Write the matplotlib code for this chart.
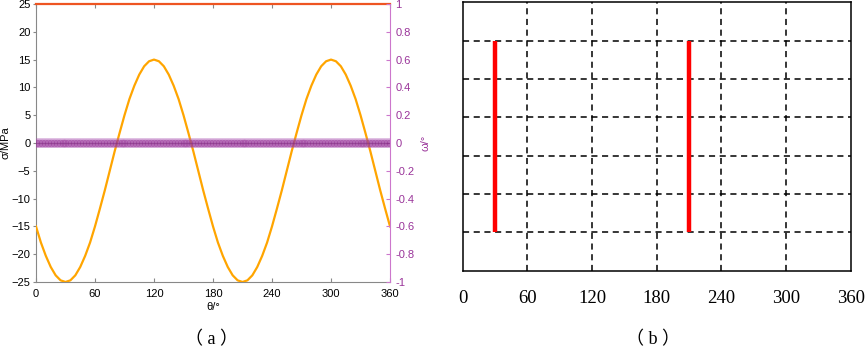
import numpy as np
import matplotlib
matplotlib.use("Agg")
import matplotlib.pyplot as plt

# --- data ------------------------------------------------------------------
theta = np.arange(0, 361, 5)
sigma = [-15.0, -17.9, -20.3, -22.3, -23.8, -24.7, -25.0, -24.7, -23.8, -22.3,
         -20.3, -17.9, -15.0, -11.8, -8.5, -5.0, -1.5, 1.8, 5.0, 7.9,
         10.3, 12.3, 13.8, 14.7, 15.0, 14.7, 13.8, 12.3, 10.3, 7.9,
         5.0, 1.8, -1.5, -5.0, -8.5, -11.8,
         -15.0, -17.9, -20.3, -22.3, -23.8, -24.7, -25.0, -24.7, -23.8, -22.3,
         -20.3, -17.9, -15.0, -11.8, -8.5, -5.0, -1.5, 1.8, 5.0, 7.9,
         10.3, 12.3, 13.8, 14.7, 15.0, 14.7, 13.8, 12.3, 10.3, 7.9,
         5.0, 1.8, -1.5, -5.0, -8.5, -11.8, -15.0]
theta_omega = np.arange(0, 361, 3)
omega = np.zeros(len(theta_omega))

x_ticks = [0, 60, 120, 180, 240, 300, 360]
sigma_ticks = [-25, -20, -15, -10, -5, 0, 5, 10, 15, 20, 25]
omega_ticks = [-1, -0.8, -0.6, -0.4, -0.2, 0, 0.2, 0.4, 0.6, 0.8, 1]
omega_labels = ["-1", "-0.8", "-0.6", "-0.4", "-0.2", "0", "0.2", "0.4", "0.6", "0.8", "1"]

crack_theta = [30, 210]
crack_y0 = [1, 1]
crack_y1 = [6, 6]
grid_rows = [1, 2, 3, 4, 5, 6]
grid_cols = [60, 120, 180, 240, 300]

PURPLE = "#993399"
SANS = ["Liberation Sans", "DejaVu Sans"]
SERIF = ["Liberation Serif", "Noto Sans CJK SC"]
plt.rcParams["font.family"] = SANS

fig = plt.figure(figsize=(8.65, 3.5), dpi=100)

# --- (a) stress / rotation along theta --------------------------------------
ax = fig.add_axes([0.0416, 0.1943, 0.4093, 0.7943])
ax.plot(theta, sigma, color="#FFA500", lw=1.6, zorder=3)
ax.set_xlim(0, 360)
ax.set_ylim(-25, 25)
ax.set_xticks(x_ticks)
ax.set_yticks(sigma_ticks)
ax.tick_params(axis="x", direction="in", top=True, length=3, color="#888888",
               labelsize=8, pad=5)
ax.tick_params(axis="y", direction="out", length=2, color="#888888",
               labelsize=8, pad=2)
ax.set_xlabel("θ/°", fontsize=8, labelpad=2)
ax.set_ylabel("σ/MPa", fontsize=8, labelpad=1)
for side in ("left", "bottom"):
    ax.spines[side].set_color("#888888")
ax.spines["top"].set_color("#EE5522")
ax.spines["top"].set_linewidth(1.6)
ax.spines["right"].set_visible(False)

ax2 = ax.twinx()
ax2.plot(theta_omega, omega, color="#B060B8", lw=7, alpha=0.45, zorder=2)
ax2.plot(theta_omega, omega, color=PURPLE, lw=0, marker="o", ms=5,
         alpha=0.3, markeredgewidth=0.8, zorder=2)
ax2.plot(theta_omega, omega, color="#7a2a7a", lw=1.0, alpha=0.5, zorder=2)
ax2.set_ylim(-1, 1)
ax2.set_yticks(omega_ticks)
ax2.set_yticklabels(omega_labels)
ax2.tick_params(axis="y", direction="in", length=3, color="#CC77CC",
                labelcolor=PURPLE, labelsize=8, pad=4)
ax2.set_ylabel("ω/°", fontsize=8, color=PURPLE, labelpad=4)
ax2.spines["right"].set_color("#CC77CC")
for side in ("left", "top", "bottom"):
    ax2.spines[side].set_visible(False)

fig.text(0.245, 0.03, "（ a ）", fontsize=13, family=SERIF, ha="center", va="center")

# --- (b) crack positions --------------------------------------------------
bx = fig.add_axes([0.5347, 0.2266, 0.4491, 0.7663])
for r in grid_rows:
    bx.axhline(r, color="black", lw=1.1, ls=(0, (4, 3)), zorder=1)
for c in grid_cols:
    bx.axvline(c, color="black", lw=1.1, ls=(0, (4, 3)), zorder=1)
bx.vlines(crack_theta, crack_y0, crack_y1, color="red", lw=3.2, zorder=3)
bx.set_xlim(0, 360)
bx.set_ylim(0, 7)
bx.set_xticks(x_ticks)
bx.set_yticks([])
bx.tick_params(axis="x", length=0, labelsize=13.5, pad=14,
               labelfontfamily="Liberation Serif")
for s in bx.spines.values():
    s.set_linewidth(1.1)
    s.set_color("black")

fig.text(0.755, 0.03, "（ b ）", fontsize=13, family=SERIF, ha="center", va="center")

fig.savefig("out.png", dpi=100)
